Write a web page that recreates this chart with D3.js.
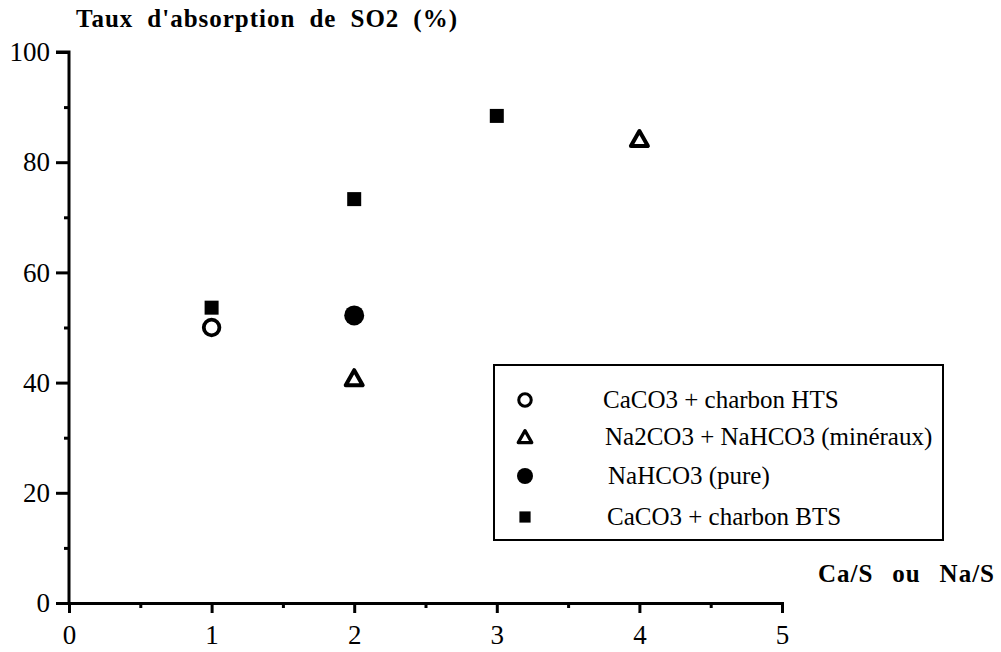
<!DOCTYPE html>
<html><head><meta charset="utf-8">
<script src="https://cdn.jsdelivr.net/npm/d3@7"></script>
<style>body{margin:0;background:#fff}svg{display:block}</style>
</head><body>
<svg id="c" width="1001" height="652"></svg>
<script>
const seriesNames = ["CaCO3 + charbon HTS","Na2CO3 + NaHCO3 (minéraux)","NaHCO3 (pure)","CaCO3 + charbon BTS"];
const seriesSymbols = ["openCircle","openTriangle","filledCircle","filledSquare"];
const hts = [{x:1,y:50}];
const mineraux = [{x:2,y:40.8},{x:4,y:84.2}];
const pure = [{x:2,y:52.2}];
const bts = [{x:1,y:53.6},{x:2,y:73.3},{x:3,y:88.4}];
const xTicks = [0,1,2,3,4,5];
const yTicks = [0,20,40,60,80,100];
const seriesData = [hts, mineraux, pure, bts];
const FONT = '"Liberation Serif"';

const svg = d3.select("#c");
const x = d3.scaleLinear().domain([0,5]).range([69,782]);
const y = d3.scaleLinear().domain([0,100]).range([603,52]);

const gx = svg.append("g").attr("transform",`translate(0,${y(0)})`)
  .call(d3.axisBottom(x).tickValues(xTicks).tickSize(10).tickPadding(12).tickFormat(d3.format("d")));
const gxm = svg.append("g").attr("transform",`translate(0,${y(0)})`)
  .call(d3.axisBottom(x).tickValues([0.5,1.5,2.5,3.5,4.5]).tickSize(5).tickFormat(""));
const gy = svg.append("g").attr("transform",`translate(${x(0)},0)`)
  .call(d3.axisLeft(y).tickValues(yTicks).tickSize(13).tickPadding(6).tickFormat(d3.format("d")));
const gym = svg.append("g").attr("transform",`translate(${x(0)},0)`)
  .call(d3.axisLeft(y).tickValues([10,30,50,70,90]).tickSize(5).tickFormat(""));
[gx,gxm,gy,gym].forEach(g=>{
  g.selectAll(".domain").attr("stroke","#000").attr("stroke-width",3);
  g.selectAll(".tick line").attr("stroke","#000").attr("stroke-width",3);
  g.selectAll(".tick text").style("font-family",FONT).style("font-size","27px").attr("fill","#000");
});
gxm.select(".domain").remove(); gym.select(".domain").remove();
gy.select(".domain").attr("d",`M-13,${y(100)}H0V${y(0)}`);

function spacedTitle(tx, ty, str, targetW, nSpaces){
  const t = svg.append("text").attr("x",tx).attr("y",ty).style("font-family",FONT)
    .style("font-weight","bold").style("font-size","25px").style("letter-spacing","1px").text(str);
  const w = t.node().getComputedTextLength();
  t.style("word-spacing", Math.max(0,(targetW-w)/nSpaces)+"px");
  return t;
}
spacedTitle(76, 27, "Taux d'absorption de SO2 (%)", 382, 4);
spacedTitle(818, 582, "Ca/S ou Na/S", 177, 2);

function drawSymbol(g, kind, cx, cy, s){
  if(kind==="openCircle") g.append("circle").attr("cx",cx).attr("cy",cy).attr("r",7.8*s).attr("fill","#fff").attr("stroke","#000").attr("stroke-width",3.8*s);
  else if(kind==="filledCircle") g.append("circle").attr("cx",cx).attr("cy",cy).attr("r",10*s).attr("fill","#000");
  else if(kind==="filledSquare") g.append("rect").attr("x",cx-7*s).attr("y",cy-7*s).attr("width",14*s).attr("height",14*s).attr("fill","#000");
  else if(kind==="openTriangle") g.append("path").attr("d",`M${cx},${cy-8*s}L${cx+8.5*s},${cy+7*s}L${cx-8.5*s},${cy+7*s}Z`).attr("fill","#fff").attr("stroke","#000").attr("stroke-width",4*s).attr("stroke-linejoin","round");
}
const plot = svg.append("g");
[3,1,2,0].forEach(i=>{
  seriesData[i].forEach(d=>drawSymbol(plot, seriesSymbols[i], x(d.x), y(d.y), 1));
});

const lg = svg.append("g");
lg.append("rect").attr("x",494).attr("y",365).attr("width",449).attr("height",175).attr("fill","none").attr("stroke","#000").attr("stroke-width",2);
const rowsY = [400,437,476,517];
const textX = [603,605,608,607];
seriesNames.forEach((n,i)=>{
  drawSymbol(lg, seriesSymbols[i], 525, rowsY[i], 0.8);
  lg.append("text").attr("x",textX[i]).attr("y",rowsY[i]+8).style("font-family",FONT).style("font-size","25px").text(n);
});
</script>
</body></html>
